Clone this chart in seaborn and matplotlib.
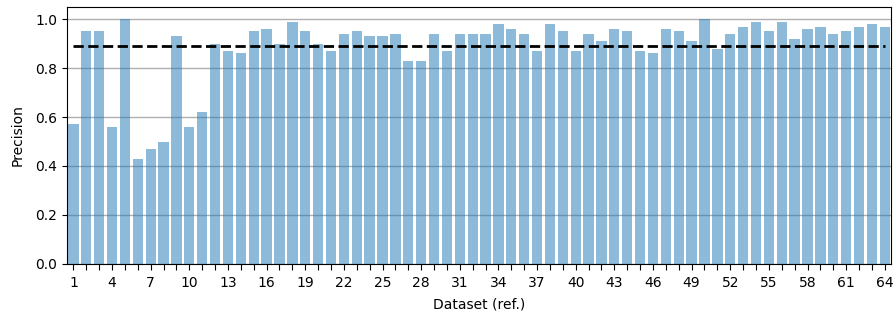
import numpy as np
import pandas as pd
import matplotlib
matplotlib.use("Agg")
import matplotlib.pyplot as plt
import seaborn as sns

# precision per dataset
datasets = list(range(1, 65))
precision = [
    0.57, 0.95, 0.95, 0.56, 1.00, 0.43, 0.47, 0.50, 0.93, 0.56,
    0.62, 0.90, 0.87, 0.86, 0.95, 0.96, 0.90, 0.99, 0.95, 0.90,
    0.87, 0.94, 0.95, 0.93, 0.93, 0.94, 0.83, 0.83, 0.94, 0.87,
    0.94, 0.94, 0.94, 0.98, 0.96, 0.94, 0.87, 0.98, 0.95, 0.87,
    0.94, 0.91, 0.96, 0.95, 0.87, 0.86, 0.96, 0.95, 0.91, 1.00,
    0.88, 0.94, 0.97, 0.99, 0.95, 0.99, 0.92, 0.96, 0.97, 0.94,
    0.95, 0.97, 0.98, 0.97,
]

df = pd.DataFrame({"dataset": datasets, "precision": precision})

fig, ax = plt.subplots(figsize=(8.93, 3.16), dpi=100)
fig.subplots_adjust(left=0.075, right=0.998, top=0.978, bottom=0.165)

ax.set_axisbelow(True)
ax.yaxis.grid(True, color="#b0b0b0", linewidth=1)

sns.barplot(data=df, x="dataset", y="precision", color="C0", alpha=0.5,
            saturation=1, width=0.8, ax=ax)

# dashed line = mean precision
mean_val = np.mean(precision)
ax.plot([0, len(datasets) - 1], [mean_val, mean_val], "k--", linewidth=2)

ax.set_ylim(0, 1.05)
ax.set_xlim(-0.5, len(datasets) - 0.5)
ax.set_xticks(range(len(datasets)))
ax.set_xticklabels([str(d) if (d - 1) % 3 == 0 else "" for d in datasets])
ax.tick_params(axis="x", length=4.5, pad=4.5)
ax.set_xlabel("Dataset (ref.)", labelpad=5)
ax.set_ylabel("Precision", labelpad=8)

plt.savefig("out.png", dpi=100)
